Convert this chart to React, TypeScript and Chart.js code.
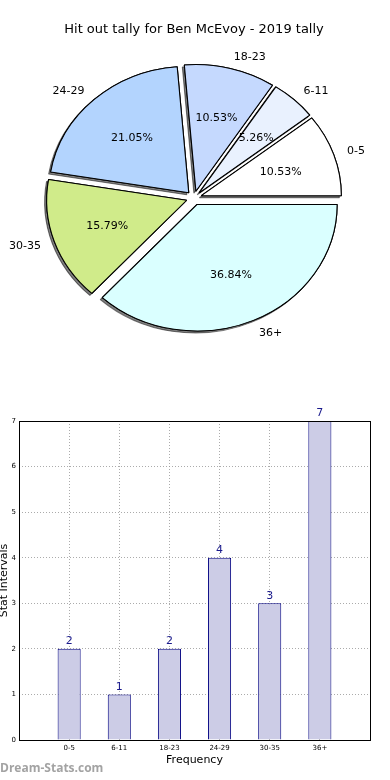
import React, { useEffect, useRef } from "react";
import { Chart, registerables } from "chart.js";

Chart.register(...registerables);

const TITLE = "Hit out tally for Ben McEvoy - 2019 tally";
const categories = ["0-5", "6-11", "18-23", "24-29", "30-35", "36+"];
const counts = [2, 1, 2, 4, 3, 7];
const pieColors = ["#ffffff", "#e9f1fe", "#c5d9fe", "#b3d4fe", "#d0eb8a", "#daffff"];
const yTicks = [0, 1, 2, 3, 4, 5, 6, 7];

const FONT = "'DejaVu Sans', sans-serif";
const SX = 1.106; // horizontal stretch (elliptical pie)
const EXPLODE = 7;

function PieChart() {
  const ref = useRef<HTMLCanvasElement>(null);
  useEffect(() => {
    const total = counts.reduce((a, b) => a + b, 0);
    const order = categories.map((_, i) => i).reverse();
    const pieDecor = {
      id: "pieDecor",
      beforeDatasetDraw(chart: any) {
        const meta = chart.getDatasetMeta(0);
        const ctx = chart.ctx as CanvasRenderingContext2D;
        const arcs = meta.data as any[];
        const cx = arcs[0].x;
        const cy = arcs[0].y;
        const pass = (shadow: boolean) => {
          ctx.save();
          ctx.translate(cx, cy);
          ctx.scale(SX, 1);
          ctx.translate(-cx, -cy);
          arcs.forEach((arc) => {
            const mid = (arc.startAngle + arc.endAngle) / 2;
            ctx.save();
            ctx.translate(Math.cos(mid) * EXPLODE, Math.sin(mid) * EXPLODE);
            if (shadow) {
              ctx.shadowColor = "rgba(0,0,0,0.5)";
              ctx.shadowOffsetX = -2;
              ctx.shadowOffsetY = 2;
              ctx.shadowBlur = 0;
            }
            arc.draw(ctx);
            ctx.restore();
          });
          ctx.restore();
        };
        pass(true);
        pass(false);
        return false;
      },
      afterDatasetsDraw(chart: any) {
        const meta = chart.getDatasetMeta(0);
        const ctx = chart.ctx as CanvasRenderingContext2D;
        const arcs = meta.data as any[];
        ctx.save();
        ctx.font = `11px ${FONT}`;
        ctx.fillStyle = "#000";
        ctx.textBaseline = "middle";
        arcs.forEach((arc, j) => {
          const i = order[j];
          const mid = (arc.startAngle + arc.endAngle) / 2;
          const c = Math.cos(mid);
          const s = Math.sin(mid);
          const R = arc.outerRadius;
          const lr = EXPLODE + 1.1 * R;
          ctx.textAlign = c > 0 ? "left" : "right";
          ctx.fillText(categories[i], arc.x + SX * c * lr, arc.y + s * lr + 1);
          const pr = EXPLODE + 0.6 * R;
          ctx.textAlign = "center";
          const pct = ((counts[i] / total) * 100).toFixed(2) + "%";
          ctx.fillText(pct, arc.x + SX * c * pr, arc.y + s * pr + 1);
        });
        ctx.restore();
      },
    };
    const chart = new Chart(ref.current!, {
      type: "pie",
      data: {
        labels: order.map((i) => categories[i]),
        datasets: [
          {
            data: order.map((i) => counts[i]),
            backgroundColor: order.map((i) => pieColors[i]),
            borderColor: "#000",
            borderWidth: 1,
            offset: 0,
            hoverOffset: 0,
          } as any,
        ],
      },
      options: {
        responsive: false,
        animation: false,
        rotation: 90,
        radius: 126.6,
        events: [],
        layout: { padding: { left: 0, right: 2, top: 0, bottom: 11.6 } },
        plugins: {
          legend: { display: false },
          tooltip: { enabled: false },
          title: {
            display: true,
            text: TITLE,
            color: "#000",
            font: { family: FONT, size: 13, weight: "normal", lineHeight: 1.2 },
            padding: { top: 22, bottom: 10 },
          },
        },
      } as any,
      plugins: [pieDecor],
    });
    return () => chart.destroy();
  }, []);
  return (
    <canvas
      ref={ref}
      width={390}
      height={360}
      style={{ position: "absolute", left: 0, top: 0, width: 390, height: 360, display: "block" }}
    />
  );
}

function BarChart() {
  const ref = useRef<HTMLCanvasElement>(null);
  useEffect(() => {
    const decor = {
      id: "barDecor",
      afterDraw(chart: any) {
        const ctx = chart.ctx as CanvasRenderingContext2D;
        const a = chart.chartArea;
        ctx.save();
        ctx.strokeStyle = "#000";
        ctx.lineWidth = 1;
        ctx.strokeRect(Math.round(a.left) + 0.5, Math.round(a.top) + 0.5, Math.round(a.right - a.left), Math.round(a.bottom - a.top));
        const meta = chart.getDatasetMeta(0);
        ctx.font = `11px ${FONT}`;
        ctx.fillStyle = "#1a1a8c";
        ctx.textAlign = "center";
        ctx.textBaseline = "bottom";
        meta.data.forEach((bar: any, i: number) => {
          ctx.fillText(String(counts[i]), bar.x, bar.y - 2);
        });
        ctx.restore();
      },
    };
    const gridColor = "rgba(150,150,150,0.8)";
    const chart = new Chart(ref.current!, {
      type: "bar",
      data: {
        datasets: [
          {
            data: categories.map((_, i) => ({ x: i, y: counts[i] })),
            backgroundColor: "#ccccE6",
            borderColor: "#000080",
            borderWidth: 1,
            categoryPercentage: 1,
            barPercentage: 0.46,
          } as any,
        ],
      },
      options: {
        responsive: false,
        animation: false,
        events: [],
        layout: { padding: { top: 31, right: 20, left: 0, bottom: 0 } },
        plugins: { legend: { display: false }, tooltip: { enabled: false } },
        scales: {
          x: {
            type: "linear",
            min: -1,
            max: 6,
            offset: false,
            z: 1,
            ticks: {
              stepSize: 1,
              autoSkip: false,
              maxRotation: 0,
              padding: 4,
              color: "#000",
              font: { family: FONT, size: 7 },
              callback: (v: any) => categories[v as number] ?? "",
            },
            grid: { color: gridColor, lineWidth: 1, drawTicks: false, offset: false },
            border: { display: false, dash: [1, 2] },
            title: {
              display: true,
              text: "Frequency",
              color: "#000",
              font: { family: FONT, size: 11, lineHeight: 1.2 },
              padding: { top: 0, bottom: 13.4 },
            },
            afterFit: (s: any) => {
              s.height = 40;
            },
          },
          y: {
            min: 0,
            max: 7,
            z: 1,
            afterBuildTicks: (s: any) => {
              s.ticks = yTicks.map((v) => ({ value: v }));
            },
            ticks: {
              padding: 3,
              color: "#000",
              font: { family: FONT, size: 7 },
            },
            grid: { color: gridColor, lineWidth: 1, drawTicks: false },
            border: { display: false, dash: [1, 2] },
            title: {
              display: true,
              text: "Stat Intervals",
              color: "#000",
              font: { family: FONT, size: 11, lineHeight: 0.8 },
              padding: { top: 0, bottom: 0 },
            },
            afterFit: (s: any) => {
              s.width = 19;
            },
          },
        },
      } as any,
      plugins: [decor],
    });
    return () => chart.destroy();
  }, []);
  return (
    <canvas
      ref={ref}
      width={390}
      height={390}
      style={{ position: "absolute", left: 0, top: 390, width: 390, height: 390, display: "block" }}
    />
  );
}

export default function App() {
  return (
    <div
      style={{
        position: "absolute",
        left: 0,
        top: 0,
        width: 390,
        height: 780,
        overflow: "hidden",
        background: "#fff",
      }}
    >
      <PieChart />
      <BarChart />
      <div
        style={{
          position: "absolute",
          left: 0,
          top: 760,
          fontFamily: "'Open Sans', sans-serif",
          fontWeight: 700,
          fontSize: 12,
          lineHeight: "16px",
          color: "#a3a3a3",
          whiteSpace: "nowrap",
        }}
      >
        Dream-Stats.com
      </div>
    </div>
  );
}
